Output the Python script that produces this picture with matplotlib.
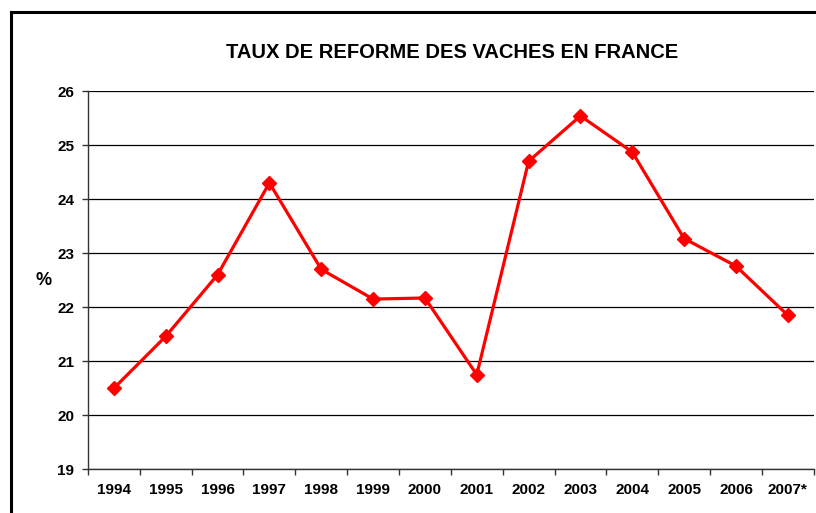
import matplotlib.pyplot as plt
from matplotlib.lines import Line2D

# Data
years = ['1994', '1995', '1996', '1997', '1998', '1999', '2000',
         '2001', '2002', '2003', '2004', '2005', '2006', '2007*']
rates = [20.50, 21.46, 22.60, 24.30, 22.70, 22.15, 22.17,
         20.75, 24.70, 25.54, 24.87, 23.27, 22.76, 21.85]
y_ticks = [19, 20, 21, 22, 23, 24, 25, 26]

plt.rcParams['font.family'] = ['Liberation Sans', 'DejaVu Sans']
plt.rcParams['font.weight'] = 'bold'

fig = plt.figure(figsize=(8.16, 5.13), dpi=100)
ax = fig.add_axes([0.1078, 0.0852, 0.9972 - 0.1078, 0.8226 - 0.0852])

x = list(range(len(years)))
ax.plot(x, rates, color='#FF0000', linewidth=2.3, marker='D',
        markersize=7, zorder=3, clip_on=False)

# Axes range: categories centred between boundary ticks
ax.set_xlim(-0.5, len(years) - 0.5)
ax.set_ylim(19, 26)
ax.set_yticks(y_ticks)
ax.set_xticks([i - 0.5 for i in range(len(years) + 1)])
ax.set_xticklabels([])
ax.set_xticks(x, minor=True)
ax.set_xticklabels(years, minor=True)
ax.tick_params(axis='x', which='minor', length=0, pad=10, labelsize=11)
ax.tick_params(axis='x', which='major', length=4, width=1, color='#333333')
ax.tick_params(axis='y', length=4, width=1, color='#333333', labelsize=11, pad=6)

ax.grid(axis='y', color='black', linewidth=0.9)
ax.set_axisbelow(True)
for side in ['top', 'right']:
    ax.spines[side].set_visible(False)
for side in ['left', 'bottom']:
    ax.spines[side].set_color('#333333')
    ax.spines[side].set_linewidth(1)

for lab in ax.get_xticklabels(minor=True) + ax.get_yticklabels():
    lab.set_fontweight('bold')

# Title and axis label
fig.text(0.554, 0.898, 'TAUX DE REFORME DES VACHES EN FRANCE',
         ha='center', va='center', fontsize=14.5, fontweight='bold')
fig.text(0.053, 0.453, '%', ha='center', va='center',
         fontsize=13, fontweight='bold')

# Chart frame (left and top edges)
fig.add_artist(Line2D([0.0135, 0.0135], [0, 0.977], color='black', linewidth=2.2))
fig.add_artist(Line2D([0.0135, 1.0], [0.977, 0.977], color='black', linewidth=2.2))

fig.savefig('out.png', dpi=100)
